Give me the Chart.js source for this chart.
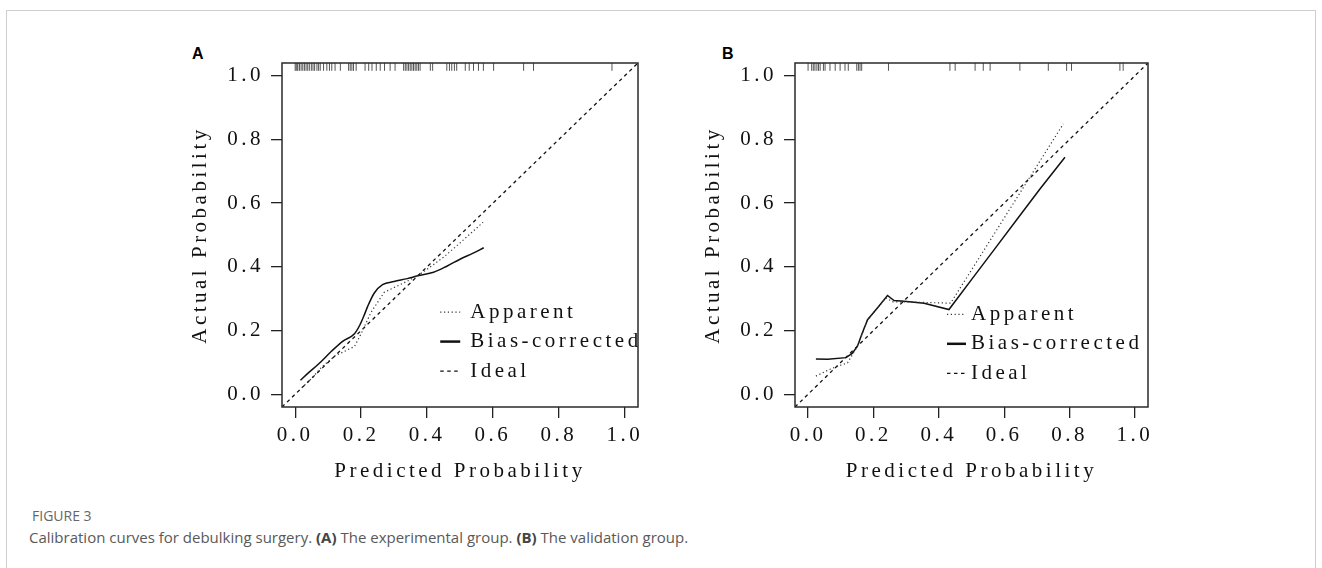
<!DOCTYPE html>
<html>
<head>
<meta charset="utf-8">
<script src="https://cdn.jsdelivr.net/npm/chart.js@4"></script>
<style>
  body { margin: 0; background: #fff; width: 1322px; height: 568px; position: relative; overflow: hidden; }
  .frame { position: absolute; left: 6px; top: 10px; width: 1308px; height: 600px; border: 1px solid #cfcfcf; border-bottom: none; }
  canvas { position: absolute; }
  .panel { position: absolute; font: bold 16px "Liberation Sans", Arial, sans-serif; line-height: 16px; color: #000; }
  .fig { position: absolute; left: 32px; top: 509px; font: 14px "Open Sans", sans-serif; line-height: 14px; color: #666; }
  .cap { position: absolute; left: 29px; top: 530px; font: 15px "Open Sans", sans-serif; line-height: 15px; color: #595959; white-space: nowrap; }
  .cap b { color: #444; }
</style>
</head>
<body>
<div class="frame"></div>
<div class="panel" style="left:192px; top:46px;">A</div>
<div class="panel" style="left:722px; top:46px;">B</div>
<canvas id="chartA" width="510" height="460" style="left:150px; top:40px;"></canvas>
<canvas id="chartB" width="510" height="460" style="left:663px; top:40px;"></canvas>
<div class="fig">FIGURE 3</div>
<div class="cap">Calibration curves for debulking surgery. <b>(A)</b> The experimental group. <b>(B)</b> The validation group.</div>

<script>
// axis ticks
const tickValues = [0, 0.2, 0.4, 0.6, 0.8, 1.0];
const legendLabels = ['Apparent', 'Bias-corrected', 'Ideal'];
const idealX = [-0.04, 1.04];
const idealY = [-0.04, 1.04];

// panel A - experimental group
const apparentAx = [0.02, 0.05, 0.08, 0.12, 0.15, 0.18, 0.20, 0.23, 0.27, 0.30, 0.34, 0.37, 0.40, 0.45, 0.50, 0.57];
const apparentAy = [0.02, 0.05, 0.085, 0.12, 0.135, 0.15, 0.19, 0.257, 0.32, 0.335, 0.355, 0.372, 0.392, 0.43, 0.475, 0.54];
const biasAx = [0.016, 0.04, 0.07, 0.11, 0.145, 0.18, 0.195, 0.21, 0.22, 0.24, 0.265, 0.30, 0.34, 0.372, 0.42, 0.46, 0.50, 0.54, 0.572];
const biasAy = [0.044, 0.067, 0.094, 0.135, 0.167, 0.19, 0.215, 0.25, 0.276, 0.318, 0.344, 0.354, 0.363, 0.372, 0.383, 0.402, 0.424, 0.443, 0.46];
const rugA = [0.0, 0.003, 0.006, 0.008, 0.013, 0.018, 0.023, 0.028, 0.033, 0.038, 0.043, 0.049, 0.054, 0.059,
  0.066, 0.071, 0.076, 0.086, 0.096, 0.104, 0.111, 0.121, 0.137, 0.162, 0.167, 0.172, 0.177, 0.185,
  0.212, 0.223, 0.233, 0.246, 0.258, 0.271, 0.288, 0.303, 0.329, 0.334, 0.339, 0.344, 0.349, 0.354,
  0.359, 0.364, 0.369, 0.374, 0.379, 0.41, 0.417, 0.46, 0.468, 0.475, 0.483, 0.49, 0.516, 0.528,
  0.541, 0.556, 0.571, 0.602, 0.693, 0.723, 0.961];

// panel B - validation group
const apparentBx = [0.024, 0.07, 0.121, 0.151, 0.182, 0.212, 0.238, 0.26, 0.294, 0.36, 0.436, 0.538, 0.639, 0.781];
const apparentBy = [0.057, 0.08, 0.099, 0.151, 0.234, 0.27, 0.302, 0.29, 0.29, 0.288, 0.286, 0.452, 0.617, 0.849];
const biasBx = [0.024, 0.06, 0.116, 0.135, 0.151, 0.165, 0.182, 0.212, 0.243, 0.263, 0.294, 0.355, 0.431, 0.50, 0.57, 0.64, 0.71, 0.786];
const biasBy = [0.111, 0.11, 0.115, 0.128, 0.151, 0.19, 0.234, 0.271, 0.31, 0.294, 0.292, 0.286, 0.266, 0.36, 0.455, 0.55, 0.645, 0.744];
const rugB = [0.0, 0.011, 0.016, 0.021, 0.027, 0.032, 0.037, 0.047, 0.052, 0.067, 0.083, 0.098, 0.113, 0.123,
  0.149, 0.154, 0.159, 0.164, 0.246, 0.434, 0.45, 0.511, 0.536, 0.557, 0.648, 0.735, 0.791, 0.806,
  0.954, 0.964];

const serifFont = { family: '"Liberation Serif", "DejaVu Serif", serif', size: 21 };
const spacing = '3.5px';
const ink = '#111';

const pairs = (xs, ys) => xs.map((x, i) => ({ x: x, y: ys[i] }));

// wide letter spacing to mimic the monospaced serif of the original
const spacingPlugin = {
    id: 'spacing',
    beforeDraw(chart) { chart.ctx.letterSpacing = spacing; }
};

const boxPlugin = {
    id: 'box',
    afterDraw(chart) {
        const { ctx, chartArea } = chart;
        ctx.save();
        ctx.strokeStyle = '#2a2a2a';
        ctx.lineWidth = 1.5;
        ctx.strokeRect(chartArea.left, chartArea.top, chartArea.right - chartArea.left, chartArea.bottom - chartArea.top);
        ctx.restore();
    }
};

const legendPlugin = {
    id: 'calLegend',
    afterDatasetsDraw(chart, args, opts) {
        const { ctx } = chart;
        const x0 = chart.scales.x.getPixelForValue(opts.x);
        const y0 = chart.scales.y.getPixelForValue(opts.y);
        ctx.save();
        ctx.font = '21px "Liberation Serif", serif';
        ctx.letterSpacing = spacing;
        ctx.fillStyle = ink;
        ctx.textBaseline = 'middle';
        legendLabels.forEach((label, i) => {
            const ds = chart.data.datasets[i];
            const yy = y0 + i * opts.rowGap;
            ctx.strokeStyle = ds.borderColor;
            ctx.lineWidth = i === 1 ? 2.5 : ds.borderWidth;
            ctx.setLineDash(ds.borderDash || []);
            ctx.beginPath();
            ctx.moveTo(x0, yy);
            ctx.lineTo(x0 + opts.symbolWidth, yy);
            ctx.stroke();
            ctx.setLineDash([]);
            ctx.fillText(label, x0 + opts.symbolWidth + opts.gap, yy);
        });
        ctx.restore();
    }
};

function makeChart(id, apparent, bias, rug, smooth, pad, legendPos) {
    const ctx = document.getElementById(id).getContext('2d');
    const axisCommon = {
        type: 'linear',
        min: -0.04,
        max: 1.04,
        afterBuildTicks: s => { s.ticks = tickValues.map(v => ({ value: v })); },
        grid: { drawOnChartArea: false, drawTicks: true, tickLength: 11, color: '#222', lineWidth: 1.3 },
        border: { display: false }
    };
    return new Chart(ctx, {
        type: 'scatter',
        data: {
            datasets: [
                {
                    data: apparent, showLine: true, pointRadius: 0,
                    borderColor: '#333', borderWidth: 1.2, borderDash: [1.2, 2.6]
                },
                {
                    data: bias, showLine: true, pointRadius: 0,
                    cubicInterpolationMode: smooth ? 'monotone' : 'default', tension: 0,
                    borderColor: ink, borderWidth: 1.5
                },
                {
                    data: pairs(idealX, idealY), showLine: true, pointRadius: 0,
                    borderColor: ink, borderWidth: 1.3, borderDash: [3.5, 3.5]
                },
                {
                    data: rug.map(v => ({ x: v, y: 1.028 })), showLine: false,
                    pointStyle: 'line', rotation: 90, pointRadius: 4,
                    borderColor: '#555', borderWidth: 1
                }
            ]
        },
        options: {
            responsive: false,
            animation: false,
            events: [],
            devicePixelRatio: 1,
            layout: { padding: pad },
            plugins: {
                legend: { display: false },
                tooltip: { enabled: false },
                calLegend: legendPos
            },
            scales: {
                x: {
                    ...axisCommon,
                    afterFit: s => { s.height = 93; },
                    ticks: { font: serifFont, color: ink, padding: 5, maxRotation: 0, autoSkip: false, callback: v => v.toFixed(1) },
                    title: { display: true, text: 'Predicted Probability', font: serifFont, color: ink, padding: { top: 0, bottom: 16 } }
                },
                y: {
                    ...axisCommon,
                    afterFit: s => { s.width = 132; },
                    ticks: { font: serifFont, color: ink, padding: 7, autoSkip: false, callback: v => v.toFixed(1) },
                    title: { display: true, text: 'Actual Probability', font: serifFont, color: ink, padding: { top: 38, bottom: 0 } }
                }
            }
        },
        plugins: [spacingPlugin, boxPlugin, legendPlugin]
    });
}

makeChart('chartA', pairs(apparentAx, apparentAy), pairs(biasAx, biasAy), rugA, true,
    { left: 0, top: 23, right: 22, bottom: 0 },
    { x: 0.44, y: 0.258, rowGap: 29.5, symbolWidth: 20, gap: 10 });

makeChart('chartB', pairs(apparentBx, apparentBy), pairs(biasBx, biasBy), rugB, false,
    { left: 0, top: 23, right: 25, bottom: 0 },
    { x: 0.425, y: 0.251, rowGap: 29.5, symbolWidth: 19, gap: 5 });
</script>
</body>
</html>
